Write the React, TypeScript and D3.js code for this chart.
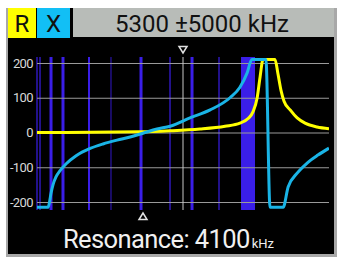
import React, { useEffect, useRef } from "react";
import * as d3 from "d3";

// sweep settings shown in the header
const centerKHz = 5300;
const spanKHz = 5000;
const resonanceKHz = 4100;
// where the resonance triangle sits on the sweep (zero crossing of X)
const resonanceMarkKHz = 3930;

const yTicks = [200, 100, 0, -100, -200];

// R (resistance) curve, ohms
const rFreq = [300, 3830, 4860, 5880, 6740, 7250, 7530, 7700, 7840, 7940, 8040, 8450, 8550, 8660, 8760, 8970, 9210, 9480, 9890, 10300];
const rVals = [0, 2, 5, 10, 18, 27, 40, 60, 100, 160, 210, 210, 170, 120, 90, 65, 42, 27, 16, 11];

// X (reactance) curve, ohms
const xFreq = [300, 680, 730, 780, 850, 950, 1090, 1300, 1640, 2120, 2560, 3040, 3490, 3930, 4410, 4860, 5540, 6230, 6910, 7250, 7490, 7660, 8140, 8280, 8730, 8900, 9210, 9550, 9920, 10300];
const xVals = [-215, -215, -200, -175, -150, -128, -110, -90, -67, -46, -33, -22, -13, -2, 10, 18, 42, 65, 100, 130, 170, 210, 210, -215, -215, -157, -117, -88, -65, -45];

// band / station markers
const markFreq = [300, 403, 780, 1190, 2081, 2834, 3862, 4855, 5609, 6533];
const markKind = ["weak", "weak", "strong", "strong", "mid", "dim", "strong", "weak", "strong", "weak"];
const bandStart = [7287];
const bandEnd = [7766];

const App = () => {
  const ref = useRef<SVGSVGElement>(null);

  useEffect(() => {
    const svg = d3.select(ref.current);
    svg.selectAll("*").remove();

    const W = 337,
      H = 257;
    const plot = { left: 37, right: 329, top: 57, bottom: 210 };

    svg.attr("width", W).attr("height", H);

    // frame + screen
    svg.append("rect").attr("x", 0).attr("y", 0).attr("width", W).attr("height", H).attr("fill", "#fff");
    svg.append("rect").attr("x", 6).attr("y", 8).attr("width", W - 6).attr("height", H - 8).attr("fill", "#a8a8a8");
    svg.append("rect").attr("x", 8).attr("y", 8).attr("width", 326).attr("height", 246).attr("fill", "#000");

    // header boxes
    svg.append("rect").attr("x", 8).attr("y", 8).attr("width", 28).attr("height", 30).attr("fill", "#ffff00");
    svg.append("rect").attr("x", 37).attr("y", 8).attr("width", 33).attr("height", 30).attr("fill", "#12bff5");
    svg.append("rect").attr("x", 73).attr("y", 8).attr("width", 261).attr("height", 29).attr("fill", "#b8bcb8");

    const header = svg.append("g").attr("font-family", "Roboto, sans-serif").attr("fill", "#111");
    header.append("text").attr("x", 22).attr("y", 32).attr("text-anchor", "middle").attr("font-size", 24).text("R");
    header.append("text").attr("x", 53.5).attr("y", 32).attr("text-anchor", "middle").attr("font-size", 24).text("X");
    header
      .append("text")
      .attr("x", 202)
      .attr("y", 32)
      .attr("text-anchor", "middle")
      .attr("font-size", 24)
      .text(`${centerKHz} ±${spanKHz} kHz`);

    const x = d3
      .scaleLinear()
      .domain([centerKHz - spanKHz, centerKHz + spanKHz])
      .range([plot.left, plot.right]);

    const y = d3.scaleLinear().domain([-200, 200]).range([202, 63]);

    // blue markers
    const styleOf: Record<string, { w: number; c: string }> = {
      strong: { w: 3, c: "#3a1ee8" },
      mid: { w: 2, c: "#3a1ee8" },
      weak: { w: 1.2, c: "#3a1ee8" },
      dim: { w: 1.2, c: "#2a14a8" },
    };

    svg
      .append("g")
      .selectAll("rect")
      .data(bandStart)
      .enter()
      .append("rect")
      .attr("x", (d) => x(d))
      .attr("width", (d, i) => x(bandEnd[i]) - x(d))
      .attr("y", plot.top)
      .attr("height", plot.bottom - plot.top)
      .attr("fill", "#3a1ee8");

    svg
      .append("g")
      .selectAll("line")
      .data(markFreq)
      .enter()
      .append("line")
      .attr("x1", (d) => x(d))
      .attr("x2", (d) => x(d))
      .attr("y1", plot.top)
      .attr("y2", plot.bottom)
      .attr("stroke", (d, i) => styleOf[markKind[i]].c)
      .attr("stroke-width", (d, i) => styleOf[markKind[i]].w);

    // grid + y labels
    const yAxis = d3
      .axisLeft(y)
      .tickValues(yTicks)
      .tickSize(-(plot.right - plot.left))
      .tickPadding(4)
      .tickFormat((d) => String(d));

    const yg = svg
      .append("g")
      .attr("transform", `translate(${plot.left},0)`)
      .call(yAxis);
    yg.select(".domain").remove();
    yg.selectAll("line").attr("stroke", "#9a9a9a").attr("stroke-width", 1.2);
    yg.selectAll("text")
      .attr("fill", "#d8d8d8")
      .attr("font-size", 13)
      .attr("font-family", "Roboto, sans-serif")
      .attr("letter-spacing", -0.6);

    // centre line + markers
    const cx = x(centerKHz);
    svg
      .append("line")
      .attr("x1", cx)
      .attr("x2", cx)
      .attr("y1", plot.top)
      .attr("y2", plot.bottom)
      .attr("stroke", "#c8c8c8")
      .attr("stroke-width", 1);

    svg
      .append("path")
      .attr("d", `M${cx - 4},46.5 L${cx + 4},46.5 L${cx},53 Z`)
      .attr("fill", "none")
      .attr("stroke", "#e0e0e0")
      .attr("stroke-width", 1.5);

    const rx = x(resonanceMarkKHz);
    svg
      .append("path")
      .attr("d", `M${rx - 4},219.5 L${rx + 4},219.5 L${rx},213 Z`)
      .attr("fill", "none")
      .attr("stroke", "#e0e0e0")
      .attr("stroke-width", 1.5);

    // curves
    svg
      .append("clipPath")
      .attr("id", "plotClip")
      .append("rect")
      .attr("x", plot.left)
      .attr("y", plot.top)
      .attr("width", plot.right - plot.left)
      .attr("height", plot.bottom - plot.top);

    const line = d3
      .line<[number, number]>()
      .x((d) => x(d[0]))
      .y((d) => y(d[1]))
      .curve(d3.curveMonotoneX);

    const curves = svg.append("g").attr("clip-path", "url(#plotClip)");

    curves
      .append("path")
      .attr("d", line(rFreq.map((f, i) => [f, rVals[i]])))
      .attr("fill", "none")
      .attr("stroke", "#ffff00")
      .attr("stroke-width", 3)
      .attr("stroke-linejoin", "round");

    curves
      .append("path")
      .attr("d", line(xFreq.map((f, i) => [f, xVals[i]])))
      .attr("fill", "none")
      .attr("stroke", "#1ab4e6")
      .attr("stroke-width", 3)
      .attr("stroke-linejoin", "round");

    // resonance readout
    const res = svg
      .append("text")
      .attr("x", 63)
      .attr("y", 248)
      .attr("font-family", "Roboto, sans-serif")
      .attr("fill", "#f0f0f0");
    res
      .append("tspan")
      .attr("font-size", 25.5)
      .attr("letter-spacing", -0.6)
      .text(`Resonance: ${resonanceKHz}`);
    res.append("tspan").attr("dx", 2).attr("font-size", 13).text("kHz");
  }, []);

  return (
    <svg
      ref={ref}
      style={{ position: "absolute", left: 0, top: 0, display: "block" }}
    />
  );
};

export default App;
